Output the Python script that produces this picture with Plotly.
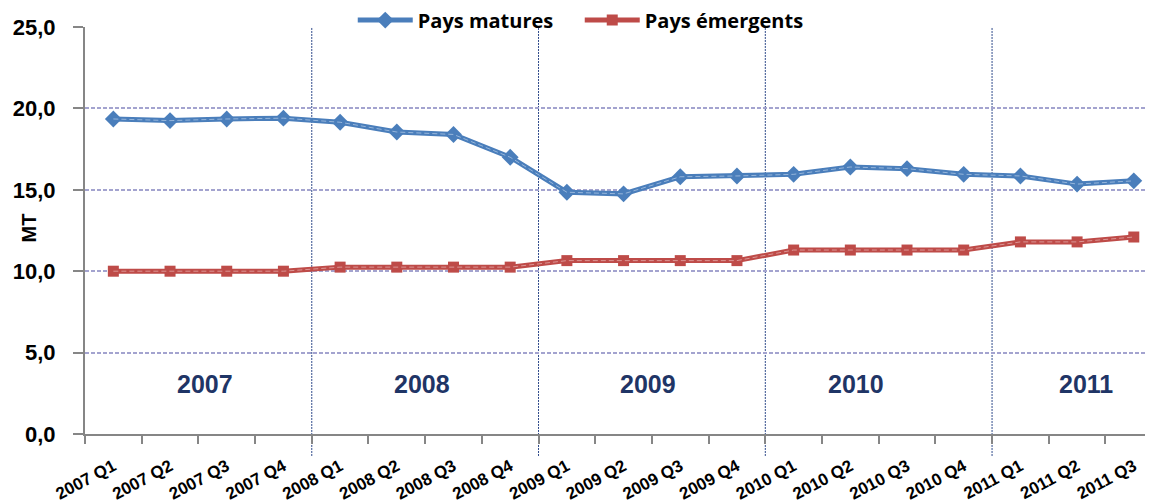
import plotly.graph_objects as go

quarters = ["2007 Q1","2007 Q2","2007 Q3","2007 Q4",
            "2008 Q1","2008 Q2","2008 Q3","2008 Q4",
            "2009 Q1","2009 Q2","2009 Q3","2009 Q4",
            "2010 Q1","2010 Q2","2010 Q3","2010 Q4",
            "2011 Q1","2011 Q2","2011 Q3"]
pays_matures = [19.35, 19.25, 19.35, 19.4, 19.15, 18.55, 18.4, 17.0,
                14.85, 14.75, 15.8, 15.85, 15.95, 16.4, 16.3, 15.95,
                15.85, 15.35, 15.55]
pays_emergents = [10.0, 10.0, 10.0, 10.0, 10.25, 10.25, 10.25, 10.25,
                  10.65, 10.65, 10.65, 10.65, 11.3, 11.3, 11.3, 11.3,
                  11.8, 11.8, 12.1]
years = ["2007", "2008", "2009", "2010", "2011"]
year_label_pos = [1.61, 5.44, 9.43, 13.10, 17.15]
year_boundaries = [3.5, 7.5, 11.5, 15.5]

BLUE = "#4A7EBB"
RED = "#BE4B48"

fig = go.Figure()
fig.add_trace(go.Scatter(
    x=quarters, y=pays_matures, name="Pays matures", mode="lines+markers",
    line=dict(color=BLUE, width=5),
    marker=dict(symbol="diamond", size=13, color=BLUE)))
fig.add_trace(go.Scatter(
    x=quarters, y=pays_emergents, name="Pays émergents", mode="lines+markers",
    line=dict(color=RED, width=5),
    marker=dict(symbol="square", size=11, color=RED)))
# light dashed highlights on the lines
fig.add_trace(go.Scatter(x=quarters, y=pays_matures, mode="lines", showlegend=False,
                         hoverinfo="skip",
                         line=dict(color="rgba(200,218,240,0.6)", width=1, dash="5px,3px")))
fig.add_trace(go.Scatter(x=quarters, y=pays_emergents, mode="lines", showlegend=False,
                         hoverinfo="skip",
                         line=dict(color="rgba(240,200,200,0.6)", width=1, dash="5px,3px")))

for b in year_boundaries:
    fig.add_shape(type="line", xref="x", yref="paper", x0=b, x1=b, y0=-0.054, y1=1,
                  line=dict(color="#2F4A8A", width=1, dash="2px,1px"), layer="below")

for lbl, xp in zip(years, year_label_pos):
    fig.add_annotation(x=xp, y=3.07, xref="x", yref="y", text="<b>" + lbl + "</b>", showarrow=False,
                       font=dict(family="Liberation Sans", size=25, color="#1F3566"),
                       xanchor="center", yanchor="middle")

# y-axis title
fig.add_annotation(x=0, y=0.5, xref="paper", yref="paper", xshift=-57, yshift=2,
                   text="<b>MT</b>", showarrow=False, textangle=-90,
                   font=dict(family="Liberation Sans", size=20, color="#000000"),
                   xanchor="center", yanchor="middle")

fig.update_layout(
    width=1153, height=504,
    margin=dict(l=77, r=0, t=19, b=78, autoexpand=False),
    paper_bgcolor="white", plot_bgcolor="white",
    separators=",.",
    showlegend=True,
    legend=dict(orientation="h", x=0.299, y=0.976, xref="container", yref="container",
                xanchor="left", yanchor="middle",
                bgcolor="rgba(0,0,0,0)", itemwidth=55,
                entrywidth=157, entrywidthmode="pixels",
                font=dict(family="Open Sans", size=20, color="#000000", weight="bold"),
                tracegroupgap=0),
    xaxis=dict(
        type="category", range=[-0.5, 18.48], automargin=False,
        showgrid=False, showline=True, linecolor="#868686", linewidth=2,
        ticks="outside", tickson="boundaries", ticklen=8, tickwidth=2, tickcolor="#868686",
        tickangle=-28, ticklabelstandoff=14,
        tickfont=dict(family="Liberation Sans", size=17, color="#000000", weight="bold"),
        zeroline=False),
    yaxis=dict(
        range=[0, 25], dtick=5, tickformat=".1f", automargin=False,
        showgrid=True, gridcolor="#A3A3CF", gridwidth=2, griddash="4px,2px",
        showline=True, linecolor="#868686", linewidth=2,
        ticks="outside", ticklen=10, tickwidth=2, tickcolor="#868686",
        ticklabelstandoff=13,
        tickfont=dict(family="Liberation Sans", size=22, color="#000000", weight="bold"),
        zeroline=False),
)

fig.write_html("out.html")
